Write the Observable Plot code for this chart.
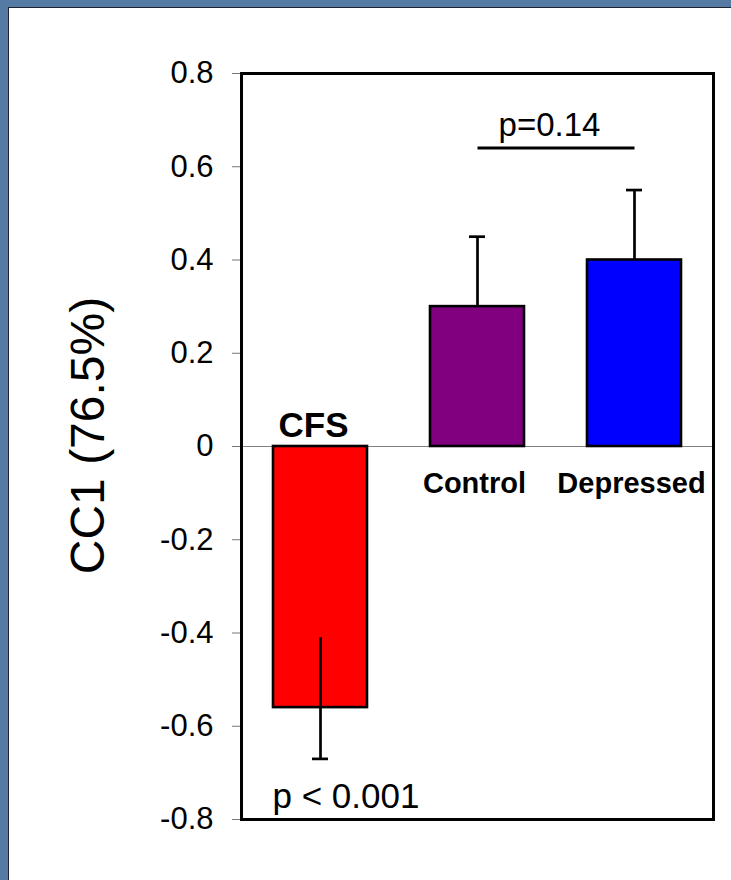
<!DOCTYPE html>
<html><head><meta charset="utf-8">
<script src="https://cdn.jsdelivr.net/npm/d3@7"></script>
<script src="https://cdn.jsdelivr.net/npm/@observablehq/plot@0.6"></script>
<style>
html,body{margin:0;padding:0;}
body{width:731px;height:880px;background:#557aa3;position:relative;overflow:hidden;font-family:"Liberation Sans",Arial,sans-serif;}
#panel{position:absolute;left:8px;top:7px;width:723px;height:873px;background:#fff;border-left:1px solid #1d2430;border-top:1px solid #1d2430;box-sizing:border-box;}
#chart{position:absolute;left:0;top:0;}
</style></head><body><div id="panel"></div><div id="chart"></div>
<script>
// ---- data ----
const groups = ["CFS", "Control", "Depressed"];
const means = [-0.56, 0.30, 0.40];
const errorFrom = [-0.41, 0.30, 0.40];   // where the error line starts
const errorCap = [-0.67, 0.45, 0.55];    // where the error line ends (with cap)
const colors = ["#ff0000", "#800080", "#0000ff"];
const yTicks = [-0.8, -0.6, -0.4, -0.2, 0, 0.2, 0.4, 0.6, 0.8];
const yTickLabels = ["-0.8", "-0.6", "-0.4", "-0.2", "0", "0.2", "0.4", "0.6", "0.8"];
const yLabel = "CC1 (76.5%)";
const bracketFrom = ["Control"];
const bracketTo = ["Depressed"];
const bracketY = [0.64];
const bracketText = ["p=0.14"];
const bracketTextY = [0.667];
const cfsPText = ["p < 0.001"];
const cfsPY = [-0.775];

const data = groups.map((g, i) => ({group: g, mean: means[i], from: errorFrom[i], cap: errorCap[i], color: colors[i]}));
const brackets = bracketFrom.map((f, i) => ({x1: f, x2: bracketTo[i], y: bracketY[i], label: bracketText[i], ly: bracketTextY[i]}));
const font = "Liberation Sans, Arial, sans-serif";

const plot = Plot.plot({
  width: 731, height: 880,
  marginLeft: 241, marginRight: 18, marginTop: 73, marginBottom: 61,
  style: {background: "none", fontFamily: font, overflow: "visible"},
  x: {domain: groups, paddingInner: 0.4, paddingOuter: 0.2, axis: null},
  y: {domain: [-0.8, 0.8], axis: null},
  color: {type: "identity"},
  marks: [
    Plot.ruleY([0], {stroke: "#808080", strokeWidth: 1.2}),
    Plot.barY(data, {x: "group", y: "mean", fill: "color", stroke: "black", strokeWidth: 2.6}),
    Plot.ruleX(data, {x: "group", y1: "from", y2: "cap", stroke: "black", strokeWidth: 2.7}),
    Plot.tickY(data, {x: "group", y: "cap", stroke: "black", strokeWidth: 2.7, insetLeft: 39, insetRight: 39}),
    Plot.axisY({ticks: yTicks, tickFormat: (d) => yTickLabels[yTicks.indexOf(d)], tickSize: 9, tickPadding: 19, fontSize: 31, stroke: "#777", fill: "black", label: null}),
    Plot.frame({stroke: "black", strokeWidth: 3}),
    // group labels
    Plot.text(data.filter(d => d.mean < 0), {x: "group", y: () => 0, text: "group", fontSize: 35, fontWeight: "bold", lineAnchor: "bottom", dy: -10, dx: -7}),
    Plot.text(data.filter(d => d.mean >= 0), {x: "group", y: () => 0, text: "group", fontSize: 29, fontWeight: "bold", lineAnchor: "top", dy: 26, dx: -3}),
    // bracket
    Plot.link(brackets, {x1: "x1", x2: "x2", y1: "y", y2: "y", stroke: "black", strokeWidth: 3}),
    Plot.text(brackets, {x: "x1", y: "ly", text: "label", fontSize: 33, dx: 72, lineAnchor: "bottom"}),
    // p value under CFS
    Plot.text(cfsPText, {x: () => groups[0], y: (d, i) => cfsPY[i], text: d => d, fontSize: 35, textAnchor: "start", lineAnchor: "bottom", dx: -48}),
    // y label
    Plot.text([yLabel], {frameAnchor: "left", text: d => d, rotate: -90, textAnchor: "middle", lineAnchor: "middle", fontSize: 48, dx: -153, dy: -11})
  ]
});
document.getElementById("chart").appendChild(plot);
</script>
</body></html>
